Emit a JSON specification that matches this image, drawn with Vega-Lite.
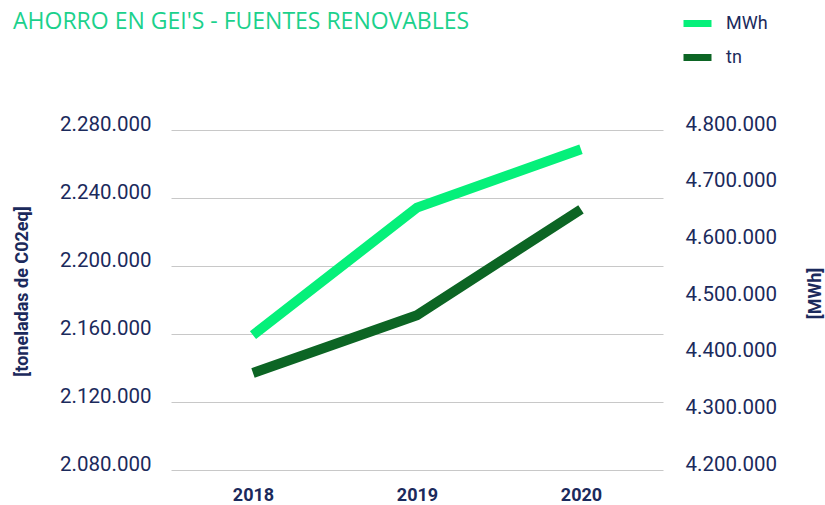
{
  "$schema": "https://vega.github.io/schema/vega-lite/v6.json",
  "width": 492,
  "height": 340,
  "autosize": {"type": "none"},
  "padding": {"left": 171, "top": 130, "right": 162, "bottom": 35},
  "background": "white",
  "config": {
    "locale": {"number": {"decimal": ",", "thousands": ".", "grouping": [3], "currency": ["", " €"]}},
    "view": {"stroke": null},
    "font": "Roboto"
  },
  "title": {
    "text": "AHORRO EN GEI'S - FUENTES RENOVABLES",
    "anchor": "start",
    "frame": "group",
    "dx": -158,
    "offset": 0,
    "dy": 46,
    "baseline": "alphabetic",
    "font": "Open Sans",
    "fontSize": 23,
    "fontWeight": 500,
    "color": "#1bd18c"
  },
  "datasets": {
    "mwh": [
      {"year": "2018", "serie": "MWh", "value": 4438000},
      {"year": "2019", "serie": "MWh", "value": 4663000},
      {"year": "2020", "serie": "MWh", "value": 4766000}
    ],
    "tn": [
      {"year": "2018", "serie": "tn", "value": 2137100},
      {"year": "2019", "serie": "tn", "value": 2171100},
      {"year": "2020", "serie": "tn", "value": 2233300}
    ]
  },
  "encoding": {
    "x": {
      "field": "year",
      "type": "ordinal",
      "scale": {"type": "point", "padding": 0.5},
      "axis": {
        "title": null,
        "labelAngle": 0,
        "domain": false,
        "ticks": false,
        "grid": false,
        "labelPadding": 16,
        "labelFont": "Roboto",
        "labelFontSize": 18,
        "labelFontWeight": "bold",
        "labelColor": "#1b2a5c"
      }
    },
    "color": {
      "field": "serie",
      "type": "nominal",
      "scale": {"domain": ["MWh", "tn"], "range": ["#05f07a", "#0c6524"]},
      "legend": {
        "title": null,
        "orient": "none",
        "legendX": 509,
        "legendY": -124,
        "padding": 0,
        "symbolType": "stroke",
        "symbolSize": 784,
        "symbolStrokeWidth": 7,
        "rowPadding": 2,
        "labelOffset": 11,
        "labelFont": "Roboto",
        "labelFontSize": 18,
        "labelColor": "#1b2a5c"
      }
    }
  },
  "layer": [
    {
      "data": {"name": "tn"},
      "mark": {"type": "line", "strokeWidth": 10, "strokeCap": "butt", "strokeJoin": "miter"},
      "encoding": {
        "y": {
          "field": "value",
          "type": "quantitative",
          "scale": {"domain": [2080000, 2280000], "zero": false, "nice": false},
          "axis": {
            "orient": "left",
            "values": [2080000, 2120000, 2160000, 2200000, 2240000, 2280000],
            "format": ",d",
            "domain": false,
            "ticks": false,
            "grid": true,
            "gridColor": "#c8c8c8",
            "gridWidth": 1,
            "labelPadding": 20,
            "labelOffset": -6,
            "labelFont": "Roboto",
            "labelFontSize": 20.5,
            "labelColor": "#1b2a5c",
            "title": "[toneladas de C02eq]",
            "titleFont": "Roboto",
            "titleFontSize": 18,
            "titleFontWeight": "bold",
            "titleColor": "#1b2a5c",
            "titleAngle": -90,
            "titleAlign": "center",
            "titleBaseline": "middle",
            "titleX": -149,
            "titleY": 161
          }
        }
      }
    },
    {
      "data": {"name": "mwh"},
      "mark": {"type": "line", "strokeWidth": 10, "strokeCap": "butt", "strokeJoin": "miter"},
      "encoding": {
        "y": {
          "field": "value",
          "type": "quantitative",
          "scale": {"domain": [4200000, 4800000], "zero": false, "nice": false},
          "axis": {
            "orient": "right",
            "values": [4200000, 4300000, 4400000, 4500000, 4600000, 4700000, 4800000],
            "format": ",d",
            "domain": false,
            "ticks": false,
            "grid": false,
            "labelPadding": 22,
            "labelOffset": -6,
            "labelFont": "Roboto",
            "labelFontSize": 20.5,
            "labelColor": "#1b2a5c",
            "title": "[MWh]",
            "titleFont": "Roboto",
            "titleFontSize": 18,
            "titleFontWeight": "bold",
            "titleColor": "#1b2a5c",
            "titleAngle": -90,
            "titleAlign": "center",
            "titleBaseline": "middle",
            "titleX": 152,
            "titleY": 163
          }
        }
      }
    }
  ],
  "resolve": {"scale": {"y": "independent"}}
}
